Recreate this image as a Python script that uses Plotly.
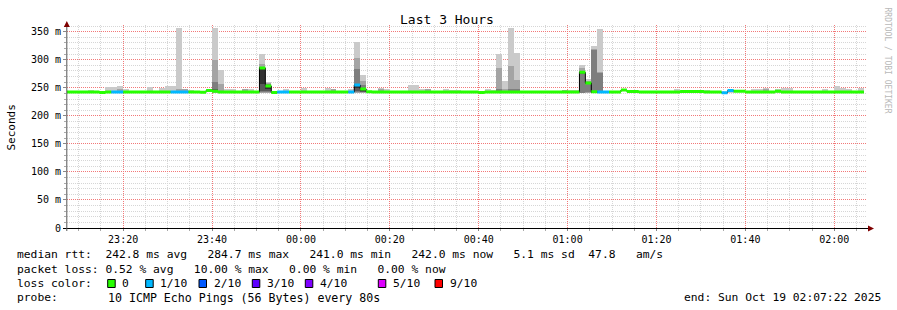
import plotly.graph_objects as go
from datetime import datetime, timedelta

# ------------------------------------------------------------------ data
title_text = "Last 3 Hours"
y_title = "Seconds"
watermark = "RRDTOOL / TOBI OETIKER"
range_start = "2025-10-18 23:07:22"
range_end = "2025-10-19 02:07:22"
step_origin = "2025-10-18 23:08:00"
step_seconds = 80
first_step = -1
last_step = 133
min_rtt = 241.0  # ms, lowest ping

y_tick_vals = [0, 50, 100, 150, 200, 250, 300, 350]
y_tick_text = ["0", "50 m", "100 m", "150 m", "200 m", "250 m", "300 m", "350 m"]

# median rtt (ms), run-length: value holds from the given step until the next run
med_run_start = [-1, 5, 6, 22, 23, 24, 25, 32, 33, 34, 35, 48, 49, 50, 51, 69, 70,
                 86, 87, 88, 89, 93, 94, 96, 103, 107, 110, 111, 112, 114, 119, 120]
med_run_val = [242.5, 241.5, 242.5, 242.0, 245.3, 244.0, 242.5, 285.5, 253.3, 241.5, 242.5,
               255.0, 248.0, 243.0, 242.5, 241.5, 242.5, 277.6, 258.7, 243.0, 242.5, 246.0,
               243.5, 242.5, 243.5, 242.5, 241.0, 245.0, 244.0, 242.5, 244.0, 242.5]

# steps with 1/10 packet loss
loss1_steps = [7, 8, 17, 18, 19, 35, 36, 47, 48, 89, 90, 110, 111]

# steps with large smoke: the 10 sorted ping times (ms)
spike_steps = [18, 24, 25, 32, 33, 48, 49, 72, 73, 74, 75, 86, 87, 88, 89]
spike_pings = [
    [241, 241, 241.5, 242, 242.2, 242.5, 243, 244, 247, 357],
    [241, 241.5, 242, 242.5, 243, 244, 247, 260, 300, 357],
    [241, 241.5, 242, 242.5, 243, 243.5, 244, 245, 257.5, 281],
    [241, 241.5, 242, 244, 257, 285.5, 287, 288, 293, 309.7],
    [241, 241.5, 242, 244, 247, 253.3, 255, 256, 258, 259.8],
    [241, 241.5, 242, 244, 249, 255, 257.6, 284, 303.7, 331],
    [241, 241.5, 242, 243, 244, 248, 250, 255, 262, 273],
    [241, 241.5, 242, 242.5, 243, 243.5, 244, 247, 285.4, 310.7],
    [241, 241.5, 242, 242.5, 243, 243.5, 244, 245, 247, 262],
    [241, 241.5, 242, 242.5, 243, 243.5, 244, 247, 289.5, 356.6],
    [241, 241.5, 242, 242.5, 243, 243.5, 244, 247, 264.6, 312],
    [241, 241, 241.5, 276, 277, 277.6, 278, 280, 284.7, 291],
    [241, 241, 242, 257, 258, 258.7, 259, 261, 263, 266],
    [241, 241, 241.5, 242, 242.5, 243, 244, 318, 319, 325],
    [241, 241, 241.5, 242, 242.5, 243, 244, 277, 278, 355],
]

# steps where only the slowest ping sticks out (max ping, ms)
bump_steps = [3, 6, 7, 8, 9, 13, 15, 16, 17, 19, 20, 26, 27, 29, 30, 36, 39, 43, 44, 47,
              50, 52, 53, 57, 58, 59, 60, 63, 64, 65, 70, 71, 76, 77, 78, 79, 81, 82, 83, 84,
              85, 102, 105, 106, 107, 111, 115, 116, 117, 119, 120, 121, 127, 129, 130, 131, 133]
bump_top = [246.8, 251, 251, 254, 248.6, 251.6, 250, 254, 254, 247, 246, 247, 247, 247, 247, 247,
            249, 250, 247, 247, 245, 250, 247, 255.6, 255.6, 248.6, 247, 247, 246, 246, 248.6,
            246, 245, 245, 245, 245, 244, 244, 246, 246, 246, 247, 245.5, 245.5, 245.5, 247,
            247, 247, 249, 247, 249, 249, 247, 254, 250, 247, 249]
# second-slowest ping where it also sticks out
bump2_steps = [8, 19, 29, 44, 52, 60, 83, 117]
bump2_top = [248, 247, 247, 247, 247, 247, 246, 247]

rtt_row = ["median rtt:  ", "242.8 ms avg   ", "284.7 ms max   ", "241.0 ms min   ",
           "242.0 ms now   ", "5.1 ms sd  ", "47.8   ", "am/s"]
loss_row = ["packet loss: ", "0.52 % avg   ", "10.00 % max   ", "0.00 % min   ", "0.00 % now"]
color_label = "loss color:"
loss_names = ["0", "1/10", "2/10", "3/10", "4/10", "5/10", "9/10"]
loss_colors = ["#26ff00", "#00b8ff", "#0059ff", "#5e00ff", "#7e00ff", "#dd00ff", "#ff0000"]
probe_row = ["probe:       ", "10 ICMP Echo Pings (56 Bytes) every 80s"]
end_text = "end: Sun Oct 19 02:07:22 2025"

# ------------------------------------------------------------------ geometry / style
W, H = 897, 310
L, R, T, B = 67, 30, 25, 82
PW, PH = W - L - R, H - T - B
Y_MAX = 362
MONO = "DejaVu Sans Mono"
LEG_SIZE = 11.3
band_half = 1.5 * Y_MAX / PH  # median band = 3 px thick


def pxx(x):
    return (x - L) / PW


def pxy(y):
    return (H - B - y) / PH


origin = datetime.strptime(step_origin, "%Y-%m-%d %H:%M:%S")
step = timedelta(seconds=step_seconds)


def s_start(k):
    return origin + step * k


def s_center(k):
    return origin + step * k + step / 2


steps = list(range(first_step, last_step + 1))
median = []
for k in steps:
    v = None
    for s, val in zip(med_run_start, med_run_val):
        if k >= s:
            v = val
    median.append(v)

fig = go.Figure()

# smoke (smokeping style: nested bands, darker toward the median)
half = 5
for ibot in range(1, half + 1):
    itop = 10 + 1 - ibot
    g = int(190 / half * (half - ibot)) + 50
    col = f"rgb({g},{g},{g})"
    xs, bases, hs = [], [], []
    for k, p in zip(spike_steps, spike_pings):
        xs.append(s_center(k))
        bases.append(p[ibot - 1])
        hs.append(p[itop - 1] - p[ibot - 1])
    if ibot == 1:
        for k, top in zip(bump_steps, bump_top):
            xs.append(s_center(k)); bases.append(min_rtt); hs.append(top - min_rtt)
    if ibot == 2:
        for k, top in zip(bump2_steps, bump2_top):
            xs.append(s_center(k)); bases.append(min_rtt); hs.append(top - min_rtt)
    fig.add_trace(go.Bar(x=xs, y=hs, base=bases, width=step_seconds * 1000,
                         marker=dict(color=col, line=dict(width=0)),
                         hoverinfo="skip", showlegend=False))

# thin black median trace (shows on the vertical transitions)
fig.add_trace(go.Scatter(
    x=[s_start(k) for k in steps] + [s_start(last_step + 1)],
    y=median + [median[-1]],
    mode="lines", line=dict(color="#000000", width=1, shape="hv"),
    hoverinfo="skip", showlegend=False))

# median band coloured by loss
for color, pick in ((loss_colors[0], False), (loss_colors[1], True)):
    xs, ys = [], []
    for k, m in zip(steps, median):
        if (k in loss1_steps) != pick:
            continue
        a, b = s_start(k), s_start(k + 1)
        xs += [a, b, b, a, a, None]
        ys += [m - band_half, m - band_half, m + band_half, m + band_half, m - band_half, None]
    fig.add_trace(go.Scatter(x=xs, y=ys, mode="lines", fill="toself", fillcolor=color,
                             line=dict(width=0, color=color), hoverinfo="skip",
                             showlegend=False))

MAJ = "rgb(242,120,120)"
MIN = "rgb(214,214,214)"
DASH = "1px,1px"

fig.update_layout(
    width=W, height=H,
    margin=dict(l=L, r=R, t=T, b=B, pad=0, autoexpand=False),
    paper_bgcolor="white", plot_bgcolor="white",
    barmode="overlay", bargap=0, showlegend=False, hovermode=False,
    font=dict(family=MONO, size=10, color="black"),
    xaxis=dict(
        type="date", range=[range_start, range_end],
        tick0="2025-10-18 23:20:00", dtick=20 * 60 * 1000, tickformat="%H:%M",
        showgrid=True, gridcolor=MAJ, griddash=DASH, gridwidth=1,
        ticks="outside", ticklen=2, tickcolor="#888", zeroline=False, showline=False,
        tickfont=dict(family=MONO, size=10, color="black"),
        minor=dict(tick0="2025-10-18 23:20:00", dtick=5 * 60 * 1000, showgrid=True,
                   gridcolor=MIN, griddash=DASH, ticks="outside", ticklen=2, tickcolor="#aaa"),
    ),
    yaxis=dict(
        range=[0, Y_MAX], tickvals=y_tick_vals, ticktext=y_tick_text,
        showgrid=True, gridcolor=MAJ, griddash=DASH, gridwidth=1,
        ticks="outside", ticklen=3, tickcolor="#888", zeroline=False, showline=False,
        tickfont=dict(family=MONO, size=10, color="black"),
        minor=dict(dtick=10, showgrid=True, gridcolor=MIN, griddash=DASH,
                   ticks="outside", ticklen=2, tickcolor="#aaa"),
    ),
)

shapes = []
# axes
shapes.append(dict(type="line", xref="paper", yref="paper", x0=pxx(63), x1=pxx(869),
                   y0=pxy(228.5), y1=pxy(228.5), line=dict(color="black", width=1)))
shapes.append(dict(type="line", xref="paper", yref="paper", x0=pxx(66.8), x1=pxx(66.8),
                   y0=pxy(231), y1=pxy(24), line=dict(color="#555555", width=1)))
ARROW = "#7f0000"
shapes.append(dict(type="path", xref="paper", yref="paper",
                   path=f"M {pxx(874)},{pxy(228.5)} L {pxx(868)},{pxy(225.5)} L {pxx(868)},{pxy(231.5)} Z",
                   fillcolor=ARROW, line=dict(width=0)))
shapes.append(dict(type="path", xref="paper", yref="paper",
                   path=f"M {pxx(66.8)},{pxy(21)} L {pxx(63.8)},{pxy(27)} L {pxx(69.8)},{pxy(27)} Z",
                   fillcolor=ARROW, line=dict(width=0)))

ann = []


def text(x, y, s, anchor="left", size=LEG_SIZE, color="black", angle=0):
    ann.append(dict(text=s.replace(" ", "\u00a0"), x=pxx(x), y=pxy(y),
                    xref="paper", yref="paper",
                    xanchor=anchor, yanchor="middle", showarrow=False, textangle=angle,
                    borderpad=0, borderwidth=0,
                    font=dict(family=MONO, size=size, color=color)))


text(447, 19, title_text, anchor="center", size=13)
text(11, 127.5, y_title, anchor="center", size=11, angle=-90)
text(887.5, 60, watermark, anchor="center", size=8, color="#b8b8b8", angle=90)

row_y = [254.7, 269.0, 283.3, 297.5]
LEFT = 16.5
text(LEFT, row_y[0], "".join(rtt_row))
text(LEFT, row_y[1], "".join(loss_row))
text(LEFT, row_y[2], color_label)
box_x = [107.7, 145.7, 199.0, 252.3, 305.3, 378.3, 435.0]
for bx, nm, c in zip(box_x, loss_names, loss_colors):
    shapes.append(dict(type="rect", xref="paper", yref="paper",
                       x0=pxx(bx), x1=pxx(bx + 7.5), y0=pxy(279.5), y1=pxy(287.5),
                       fillcolor=c, line=dict(color="black", width=1)))
    text(bx + 14.7, row_y[2], nm)
text(LEFT, row_y[3], probe_row[0])
text(107.7, row_y[3], probe_row[1], size=11.6)
text(880.5, row_y[3], end_text, anchor="right")

fig.update_layout(shapes=shapes, annotations=ann)
fig.write_html("out.html")
